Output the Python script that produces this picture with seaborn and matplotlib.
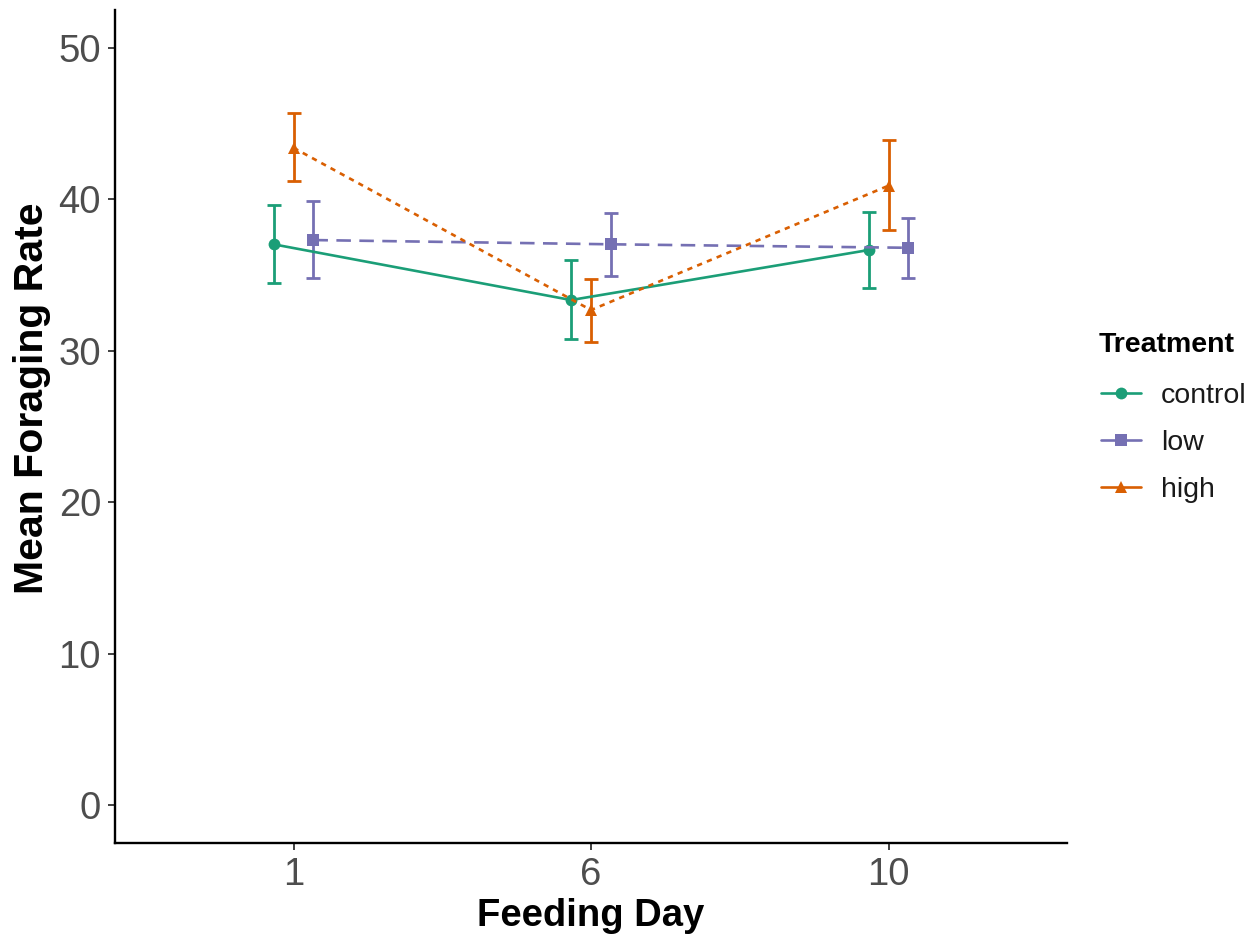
import numpy as np
import pandas as pd
import matplotlib
matplotlib.use("Agg")
import matplotlib.pyplot as plt
from matplotlib.lines import Line2D
import seaborn as sns

# ---- data ----
days = ["1", "6", "10"]
treatments = ["control", "low", "high"]
control_mean = [37.03, 33.35, 36.65]
control_lo = [34.45, 30.75, 34.12]
control_hi = [39.63, 35.99, 39.18]
low_mean = [37.31, 37.03, 36.80]
low_lo = [34.78, 34.96, 34.82]
low_hi = [39.91, 39.07, 38.75]
high_mean = [43.40, 32.69, 40.90]
high_lo = [41.23, 30.55, 37.97]
high_hi = [45.73, 34.74, 43.92]
y_ticks = [0, 10, 20, 30, 40, 50]

# ---- styling ----
sns.set_theme(style="white")
plt.rcParams['font.family'] = ['Liberation Sans', 'DejaVu Sans']

palette = {"control": "#1B9E77", "low": "#7570B3", "high": "#D95F02"}
markers = {"control": "o", "low": "s", "high": "^"}
dashes = {"control": "", "low": (5.5, 3.2), "high": (2.0, 2.0)}
offsets = {"control": -0.067, "low": 0.067, "high": 0.0}

means = {"control": control_mean, "low": low_mean, "high": high_mean}
los = {"control": control_lo, "low": low_lo, "high": high_lo}
his = {"control": control_hi, "low": low_hi, "high": high_hi}

rows = []
for t in treatments:
    for i, d in enumerate(days):
        rows.append({"Treatment": t, "Day": d, "xpos": i + offsets[t],
                     "Rate": means[t][i], "lo": los[t][i], "hi": his[t][i]})
df = pd.DataFrame(rows)

W, H = 1256, 939
AX_L, AX_R, AX_T, AX_B = 115, 1067, 10, 843
fig = plt.figure(figsize=(W / 100, H / 100), dpi=100)
ax = fig.add_axes([AX_L / W, (H - AX_B) / H, (AX_R - AX_L) / W, (AX_B - AX_T) / H])

LW = 1.9
# error bars
for t in treatments:
    sub = df[df["Treatment"] == t]
    ax.errorbar(sub["xpos"], sub["Rate"],
                yerr=[sub["Rate"] - sub["lo"], sub["hi"] - sub["Rate"]],
                fmt="none", ecolor=palette[t], elinewidth=2.0,
                capsize=5, capthick=2.0, zorder=2)

sns.lineplot(data=df, x="xpos", y="Rate", hue="Treatment", style="Treatment",
             hue_order=treatments, style_order=treatments,
             palette=palette, markers=markers, dashes=dashes,
             markersize=8.5, markeredgewidth=0, linewidth=LW,
             legend=False, ax=ax, zorder=3, sort=False)

ax.set_xlim(-0.6, 2.6)
ax.set_ylim(-2.5, 52.5)
ax.set_xticks(range(len(days)))
ax.set_xticklabels(days)
ax.set_yticks(y_ticks)

for s in ["top", "right"]:
    ax.spines[s].set_visible(False)
for s in ["left", "bottom"]:
    ax.spines[s].set_color("black")
    ax.spines[s].set_linewidth(1.7)

ax.tick_params(axis="both", which="major", length=5, width=1.3, color="#333333",
               labelsize=27.5, labelcolor="#4D4D4D", pad=5, bottom=True, left=True)

ax.set_xlabel("Feeding Day", fontsize=27.5, fontweight="bold", color="black", labelpad=4)
ax.set_ylabel("Mean Foraging Rate", fontsize=29.5, fontweight="bold", color="black")
ax.yaxis.set_label_coords((51 - AX_L) / (AX_R - AX_L), (AX_B - 398) / (AX_B - AX_T))

# legend
fig.text(1099 / W, 1 - 345 / H, "Treatment", fontsize=20.5, fontweight="bold",
         color="black", ha="left", va="center")
handles = [Line2D([0], [0], color=palette[t], marker=markers[t], markersize=8.5,
                  markeredgewidth=0, linewidth=LW) for t in treatments]
leg = fig.legend(handles, treatments, loc="upper left",
                 bbox_to_anchor=(1101 / W, 1 - 383 / H), frameon=False,
                 fontsize=20.5, handlelength=1.4, handletextpad=0.7,
                 labelspacing=0.74, borderpad=0, borderaxespad=0)
for txt in leg.get_texts():
    txt.set_color("#1A1A1A")

fig.savefig("out.png", dpi=100, facecolor="white")
